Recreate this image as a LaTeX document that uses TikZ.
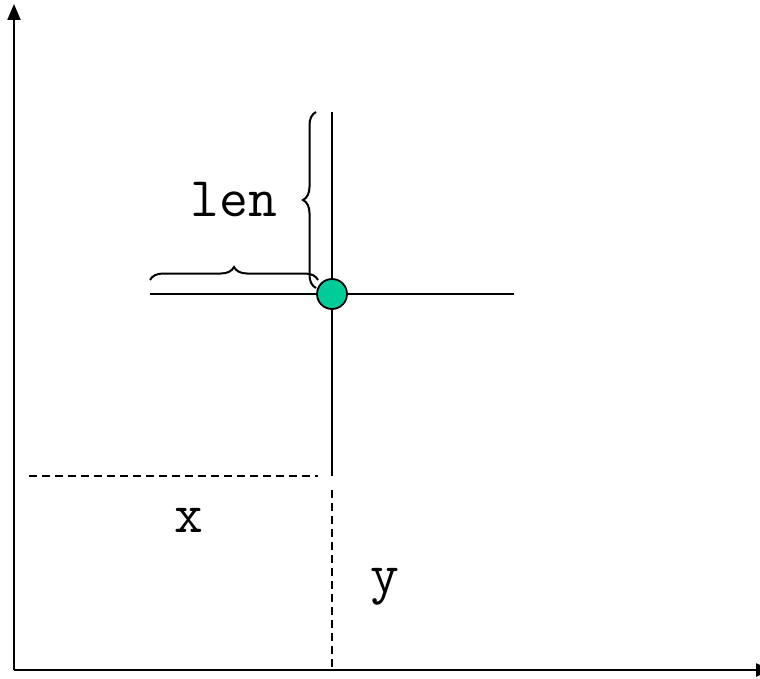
\documentclass[tikz,border=0pt]{standalone}
\usepackage{fontspec}
\usetikzlibrary{arrows.meta,decorations.pathreplacing}
\definecolor{dotgreen}{RGB}{0,204,153}
\begin{document}
\begin{tikzpicture}[x=1pt,y=-1pt,
  axis/.style={line width=2.2pt,-{Triangle[width=13pt,length=16pt]}},
  solidline/.style={line width=1.8pt},
  dashline/.style={line width=1.8pt,dash pattern=on 8pt off 5pt},
  bracestyle/.style={line width=2pt,decorate,decoration={brace,amplitude=13pt}},
  lbl/.style={font=\ttfamily\fontsize{56}{56}\selectfont,inner sep=0pt}]
\useasboundingbox (0,0) rectangle (760,679);
\coordinate (O) at (14,670);
\coordinate (ytop) at (14,4);
\coordinate (xend) at (772,670);
\draw[axis] (O) -- (ytop);
\draw[axis] (O) -- (xend);
\coordinate (hl) at (150,294);
\coordinate (hr) at (514,294);
\coordinate (vt) at (332,112);
\coordinate (vb) at (332,476);
\draw[solidline] (hl) -- (hr);
\draw[solidline] (vt) -- (vb);
\node[circle,draw,line width=1.8pt,fill=dotgreen,minimum size=30pt,inner sep=0pt] (dot) at (332,294) {};
\coordinate (dl) at (29,476);
\coordinate (dr) at (318,476);
\coordinate (dt) at (332,490);
\coordinate (db) at (332,668);
\draw[dashline] (dl) -- (dr);
\draw[dashline] (dt) -- (db);
\coordinate (bh1) at (150,280);
\coordinate (bh2) at (318,280);
\draw[bracestyle] (bh1) -- (bh2);
\coordinate (bv1) at (316,288);
\coordinate (bv2) at (316,112);
\draw[bracestyle] (bv1) -- (bv2);
\node[lbl] (len) at (234,200) {len};
\node[lbl] (xl) at (189,520) {x};
\node[lbl] (yl) at (385,587) {y};
\end{tikzpicture}
\end{document}
